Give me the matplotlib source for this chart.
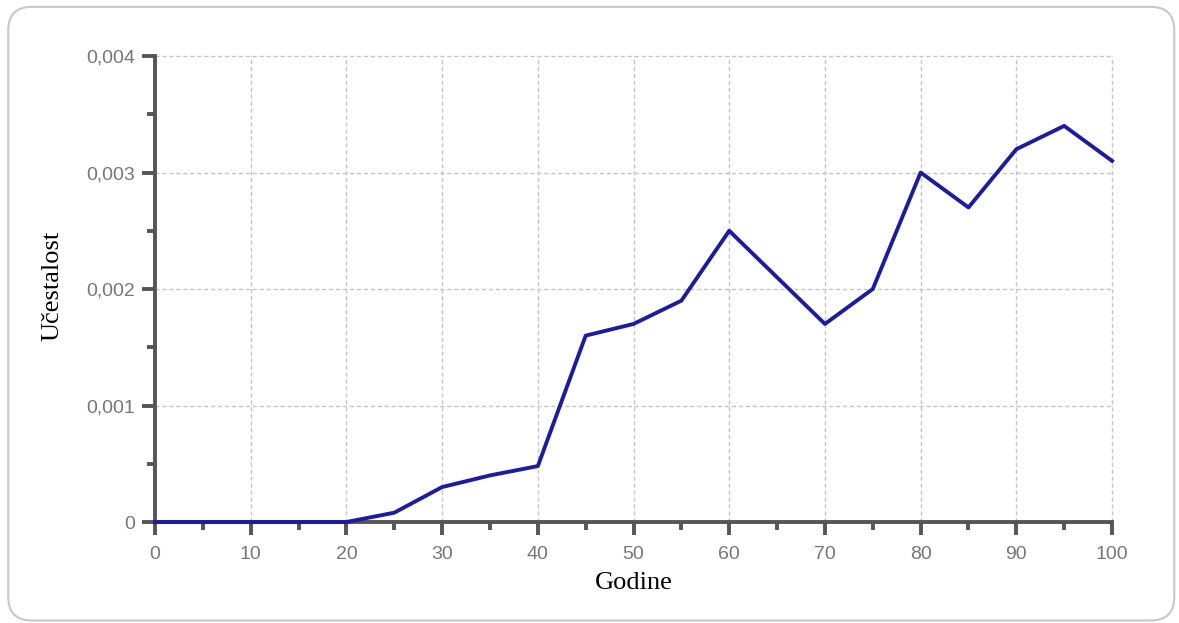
import matplotlib
matplotlib.use('Agg')
import matplotlib.pyplot as plt
from matplotlib.patches import FancyBboxPatch
from matplotlib.ticker import MultipleLocator, FuncFormatter

godine = [0, 5, 10, 15, 20, 25, 30, 35, 40, 45, 50, 55, 60, 65, 70, 75, 80, 85, 90, 95, 100]
ucestalost = [0, 0, 0, 0, 0, 0.00008, 0.0003, 0.0004, 0.00048, 0.0016, 0.0017, 0.0019, 0.0025,
              0.0021, 0.0017, 0.002, 0.003, 0.0027, 0.0032, 0.0034, 0.0031]

fig = plt.figure(figsize=(11.79, 6.23), dpi=100)
# rounded frame around the whole chart
frame = FancyBboxPatch((0.007, 0.004), 0.989, 0.985, boxstyle='round,pad=0,rounding_size=0.02',
                       transform=fig.transFigure, facecolor='none', edgecolor='#c8c8c8',
                       linewidth=1.5, mutation_aspect=1179 / 623, zorder=-1)
fig.patches.append(frame)

ax = fig.add_axes([0.1315, 0.1621, 0.8117, 0.748])
ax.patch.set_alpha(0)
ax.plot(godine, ucestalost, color='#1c1ca0', linewidth=2.8, zorder=3, clip_on=False)

ax.set_xlim(0, 100)
ax.set_ylim(0, 0.004)
ax.xaxis.set_major_locator(MultipleLocator(10))
ax.xaxis.set_minor_locator(MultipleLocator(5))
ax.yaxis.set_major_locator(MultipleLocator(0.001))
ax.yaxis.set_minor_locator(MultipleLocator(0.0005))
ax.yaxis.set_major_formatter(FuncFormatter(lambda v, p: '0' if v == 0 else ('%.3f' % v).replace('.', ',')))

ax.grid(True, which='major', color='#c4c4c4', linestyle=(0, (3, 2)), linewidth=1.0)
ax.set_axisbelow(True)
for gl in ax.get_xgridlines() + ax.get_ygridlines():
    gl.set_clip_on(False)

for s in ['top', 'right']:
    ax.spines[s].set_visible(False)
for s in ['left', 'bottom']:
    ax.spines[s].set_color('#555555')
    ax.spines[s].set_linewidth(2.8)

ax.tick_params(which='major', direction='out', length=9.5, width=2.8, color='#555555',
               labelcolor='#777777', labelsize=14, pad=5)
ax.tick_params(axis='x', which='major', pad=8)
ax.tick_params(which='minor', direction='out', length=6, width=2.8, color='#555555')
for lab in ax.get_xticklabels() + ax.get_yticklabels():
    lab.set_family('Liberation Sans')

ax.set_xlabel('Godine', family='Liberation Serif', fontsize=19, color='black')
ax.set_ylabel('Učestalost', family='Liberation Serif', fontsize=19, color='black')
ax.xaxis.set_label_coords(0.5, -0.108)
ax.yaxis.set_label_coords(-0.096, 0.506)

fig.savefig('out.png', dpi=100)
